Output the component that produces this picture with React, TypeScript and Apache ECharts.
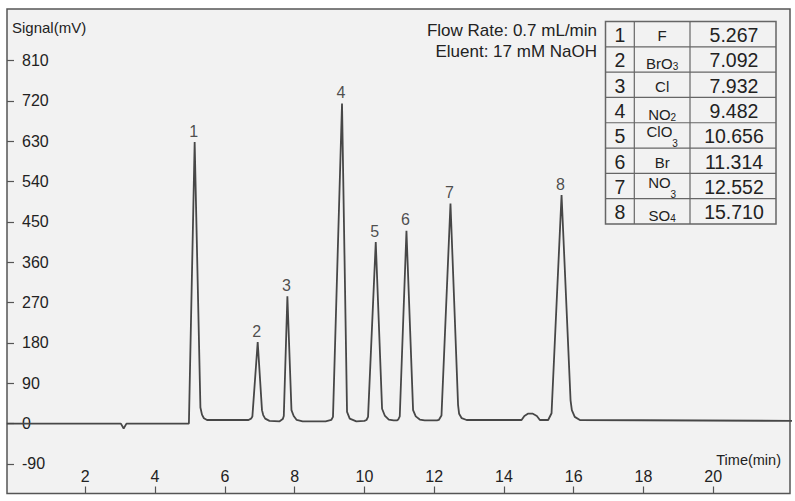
import React, { useEffect, useRef } from "react";
import * as echarts from "echarts";

// ---- chromatogram trace (time in min, signal in mV) ----
const traceTime = [
  -0.25, 3.02, 3.10, 3.18, 4.97,
  5.135, 5.30, 5.345, 5.40, 5.49,
  6.68, 6.75, 6.79, 6.942, 7.065, 7.10, 7.157, 7.28,
  7.57, 7.66, 7.69, 7.793, 7.91, 7.974, 8.06, 8.23,
  8.89, 9.05, 9.10, 9.359, 9.503, 9.58, 9.77,
  10.0, 10.06, 10.105, 10.326, 10.507, 10.584, 10.70, 10.84,
  10.93, 10.97, 11.014, 11.206, 11.396, 11.473, 11.588, 11.73,
  12.08, 12.133, 12.21, 12.468, 12.686, 12.715, 12.79, 12.93,
  14.505, 14.586, 14.686, 14.83, 14.944, 15.03,
  15.268, 15.365, 15.652, 15.91, 15.947, 16.03, 16.177,
  22.3,
];
const traceSignal = [
  0, 0, -11, 0, 0,
  628, 36, 20, 12, 8,
  8, 11, 16, 182, 30, 19, 11, 6,
  5, 10, 17, 284, 30, 17, 8, 5,
  5, 8, 15, 714, 26, 11, 5,
  6, 8, 15, 405, 33, 18, 9, 7,
  7, 9, 16, 430, 30, 16, 9, 7,
  7, 8, 18, 491, 41, 22, 12, 8,
  8, 17, 22, 22, 17, 8,
  8, 23, 510, 52, 30, 15, 8,
  6,
];

// ---- peak labels ----
const peakNumbers = ["1", "2", "3", "4", "5", "6", "7", "8"];
const peakTime = [5.135, 6.942, 7.793, 9.359, 10.326, 11.206, 12.468, 15.652];
const peakHeight = [628, 182, 284, 714, 405, 430, 491, 510];

// ---- axis ticks ----
const yTicks = [-90, 0, 90, 180, 270, 360, 450, 540, 630, 720, 810];
const xTicks = [2, 4, 6, 8, 10, 12, 14, 16, 18, 20];

// ---- table ----
const tableIds = ["1", "2", "3", "4", "5", "6", "7", "8"];
const tableIonMain = ["F", "BrO", "Cl", "NO", "ClO", "Br", "NO", "SO"];
const tableIonSub = ["", "3", "", "2", "3", "", "3", "4"];
const tableSubLow = [false, false, false, false, true, false, true, false];
const tableRT = ["5.267", "7.092", "7.932", "9.482", "10.656", "11.314", "12.552", "15.710"];

const infoLines = ["Flow Rate: 0.7 mL/min", "Eluent: 17 mM NaOH"];

const FONT = "'Liberation Sans', Arial, Helvetica, sans-serif";
const TXT = "#222222";

function buildTable(): any[] {
  const x0 = 605.5, x1 = 634.3, x2 = 690, x3 = 776;
  const y0 = 21.5, y1 = 224;
  const rowH = (y1 - y0) / tableIds.length;
  const lineStyle = { stroke: "#666666", lineWidth: 1.2 };
  const els: any[] = [];
  els.push({ type: "rect", shape: { x: x0, y: y0, width: x3 - x0, height: y1 - y0 }, style: { fill: "#f2f2f2", stroke: "#666666", lineWidth: 1.5 }, z: 10 });
  els.push({ type: "line", shape: { x1: x1, y1: y0, x2: x1, y2: y1 }, style: lineStyle, z: 11 });
  els.push({ type: "line", shape: { x1: x2, y1: y0, x2: x2, y2: y1 }, style: lineStyle, z: 11 });
  for (let i = 1; i < tableIds.length; i++) {
    const yy = y0 + rowH * i;
    els.push({ type: "line", shape: { x1: x0, y1: yy, x2: x3, y2: yy }, style: lineStyle, z: 11 });
  }
  tableIds.forEach((id, i) => {
    const c = y0 + rowH * (i + 0.5);
    els.push({ type: "text", x: (x0 + x1) / 2, y: c + 1, z: 12, style: { text: id, fontSize: 19.5, fontFamily: FONT, fill: TXT, align: "center", verticalAlign: "middle" } });
    els.push({ type: "text", x: (x2 + x3) / 2 + 1, y: c + 1, z: 12, style: { text: tableRT[i], fontSize: 19.5, fontFamily: FONT, fill: TXT, align: "center", verticalAlign: "middle" } });
    const main = tableIonMain[i];
    const sub = tableIonSub[i];
    if (!sub) {
      els.push({ type: "text", x: (x1 + x2) / 2, y: c + 1.5, z: 12, style: { text: main, fontSize: 15, fontFamily: FONT, fill: TXT, align: "center", verticalAlign: "middle" } });
    } else {
      const low = tableSubLow[i];
      const top = low ? c - 11 : c - 3.5;
      const pad = low ? 14.5 : 5.5;
      els.push({
        type: "text", x: (x1 + x2) / 2, y: top, z: 12,
        style: {
          text: "{m|" + main + "}{s|" + sub + "}",
          align: "center", verticalAlign: "top",
          rich: {
            m: { fontSize: 15, fontFamily: FONT, fill: TXT, lineHeight: 14, verticalAlign: "top" },
            s: { fontSize: 10, fontFamily: FONT, fill: TXT, lineHeight: 9, verticalAlign: "top", padding: [pad, 0, 0, 0] },
          },
        },
      });
    }
  });
  return els;
}

export default function App() {
  const ref = useRef<HTMLDivElement>(null);
  useEffect(() => {
    if (!ref.current) return;
    const chart = echarts.init(ref.current, null, { renderer: "svg" });
    const option: any = {
      animation: false,
      backgroundColor: "#ffffff",
      textStyle: { fontFamily: FONT },
      grid: {
        left: 7, right: 5, top: 9, bottom: 7.5,
        show: true, backgroundColor: "#f2f2f2", borderColor: "#555555", borderWidth: 1.5,
        outerBoundsMode: "none", containLabel: false,
      },
      xAxis: {
        type: "value", min: -0.244, max: 22.2,
        axisLine: { show: false, onZero: false }, splitLine: { show: false },
        axisTick: { show: true, inside: true, length: 7, lineStyle: { color: "#555555", width: 1.2 }, customValues: xTicks },
        axisLabel: { show: true, inside: true, margin: 9, fontSize: 16, color: TXT, fontFamily: FONT, customValues: xTicks },
      },
      yAxis: {
        type: "value", min: -156, max: 925,
        axisLine: { show: false, onZero: false }, splitLine: { show: false },
        axisTick: { show: true, inside: true, length: 7, lineStyle: { color: "#555555", width: 1.2 }, customValues: yTicks },
        axisLabel: { show: true, inside: true, margin: 15, fontSize: 16, color: TXT, fontFamily: FONT, customValues: yTicks },
      },
      series: [
        {
          type: "line",
          data: traceTime.map((t, i) => [t, traceSignal[i]]),
          symbol: "none", showSymbol: false, silent: true,
          lineStyle: { color: "#474747", width: 1.8 },
          z: 3,
        },
        {
          type: "scatter",
          data: peakTime.map((t, i) => ({ value: [t, peakHeight[i]], name: peakNumbers[i] })),
          symbolSize: 0, silent: true,
          label: { show: true, position: "top", distance: 3, offset: [-1, 0], formatter: "{b}", fontSize: 16, color: TXT, fontFamily: FONT },
          z: 4,
        },
      ],
      graphic: [
        { type: "text", x: 12, y: 27.5, z: 12, style: { text: "Signal(mV)", fontSize: 15, fontFamily: FONT, fill: TXT, align: "left", verticalAlign: "middle" } },
        { type: "text", x: 781, y: 460, z: 12, style: { text: "Time(min)", fontSize: 14.5, fontFamily: FONT, fill: TXT, align: "right", verticalAlign: "middle" } },
        { type: "text", x: 597, y: 30.5, z: 12, style: { text: infoLines[0], fontSize: 17, fontFamily: FONT, fill: TXT, align: "right", verticalAlign: "middle" } },
        { type: "text", x: 597, y: 51.5, z: 12, style: { text: infoLines[1], fontSize: 17, fontFamily: FONT, fill: TXT, align: "right", verticalAlign: "middle" } },
        ...buildTable(),
      ],
    };
    chart.setOption(option);
    return () => chart.dispose();
  }, []);
  return <div ref={ref} style={{ position: "fixed", left: 0, top: 0, width: 795, height: 501 }} />;
}
